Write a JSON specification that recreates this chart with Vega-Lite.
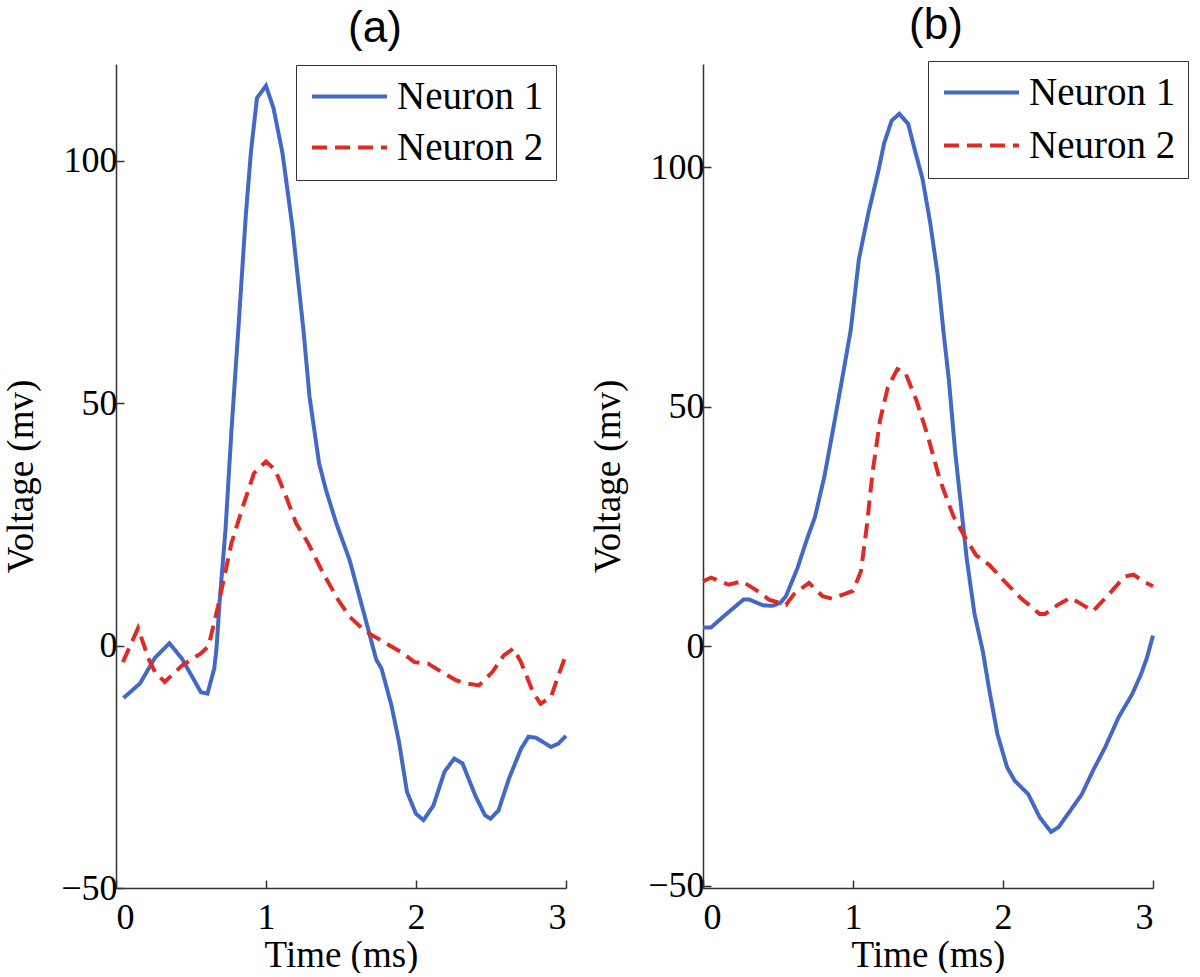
{
  "$schema": "https://vega.github.io/schema/vega-lite/v6.json",
  "background": "white",
  "padding": {"left": 2, "top": 3, "right": 0, "bottom": 0},
  "spacing": 15,
  "datasets": {
    "a": [
      {"series": "Neuron 1", "t": 0.05, "v": -10.8},
      {"series": "Neuron 1", "t": 0.16, "v": -7.8},
      {"series": "Neuron 1", "t": 0.26, "v": -2.5},
      {"series": "Neuron 1", "t": 0.356, "v": 0.5},
      {"series": "Neuron 1", "t": 0.44, "v": -2.7},
      {"series": "Neuron 1", "t": 0.566, "v": -9.6},
      {"series": "Neuron 1", "t": 0.61, "v": -9.9},
      {"series": "Neuron 1", "t": 0.655, "v": -4.7},
      {"series": "Neuron 1", "t": 0.67, "v": -0.6},
      {"series": "Neuron 1", "t": 0.69, "v": 8.8},
      {"series": "Neuron 1", "t": 0.73, "v": 23.9},
      {"series": "Neuron 1", "t": 0.77, "v": 44.5},
      {"series": "Neuron 1", "t": 0.815, "v": 65},
      {"series": "Neuron 1", "t": 0.866, "v": 89},
      {"series": "Neuron 1", "t": 0.9, "v": 102},
      {"series": "Neuron 1", "t": 0.94, "v": 113},
      {"series": "Neuron 1", "t": 1.0, "v": 115.5},
      {"series": "Neuron 1", "t": 1.05, "v": 110.9},
      {"series": "Neuron 1", "t": 1.11, "v": 101.6},
      {"series": "Neuron 1", "t": 1.176, "v": 86.4},
      {"series": "Neuron 1", "t": 1.25, "v": 65},
      {"series": "Neuron 1", "t": 1.29, "v": 51.4},
      {"series": "Neuron 1", "t": 1.354, "v": 37.6},
      {"series": "Neuron 1", "t": 1.4, "v": 32.1},
      {"series": "Neuron 1", "t": 1.468, "v": 25.3},
      {"series": "Neuron 1", "t": 1.557, "v": 17.7},
      {"series": "Neuron 1", "t": 1.67, "v": 4.7},
      {"series": "Neuron 1", "t": 1.735, "v": -2.9},
      {"series": "Neuron 1", "t": 1.77, "v": -4.7},
      {"series": "Neuron 1", "t": 1.836, "v": -12.3},
      {"series": "Neuron 1", "t": 1.887, "v": -19.9},
      {"series": "Neuron 1", "t": 1.94, "v": -30.2},
      {"series": "Neuron 1", "t": 2.0, "v": -34.7},
      {"series": "Neuron 1", "t": 2.05, "v": -36},
      {"series": "Neuron 1", "t": 2.116, "v": -33},
      {"series": "Neuron 1", "t": 2.19, "v": -26},
      {"series": "Neuron 1", "t": 2.255, "v": -23.3},
      {"series": "Neuron 1", "t": 2.31, "v": -24.3},
      {"series": "Neuron 1", "t": 2.395, "v": -30.9},
      {"series": "Neuron 1", "t": 2.46, "v": -35},
      {"series": "Neuron 1", "t": 2.497, "v": -35.7},
      {"series": "Neuron 1", "t": 2.55, "v": -34},
      {"series": "Neuron 1", "t": 2.62, "v": -27.4},
      {"series": "Neuron 1", "t": 2.7, "v": -21.3},
      {"series": "Neuron 1", "t": 2.75, "v": -18.8},
      {"series": "Neuron 1", "t": 2.8, "v": -19},
      {"series": "Neuron 1", "t": 2.9, "v": -20.9},
      {"series": "Neuron 1", "t": 2.95, "v": -20.2},
      {"series": "Neuron 1", "t": 3.0, "v": -18.6},
      {"series": "Neuron 2", "t": 0.046, "v": -3.4},
      {"series": "Neuron 2", "t": 0.147, "v": 3.6},
      {"series": "Neuron 2", "t": 0.22, "v": -2.9},
      {"series": "Neuron 2", "t": 0.26, "v": -5.4},
      {"series": "Neuron 2", "t": 0.325, "v": -7.5},
      {"series": "Neuron 2", "t": 0.44, "v": -4.1},
      {"series": "Neuron 2", "t": 0.566, "v": -1.6},
      {"series": "Neuron 2", "t": 0.617, "v": -0.1},
      {"series": "Neuron 2", "t": 0.68, "v": 8.1},
      {"series": "Neuron 2", "t": 0.77, "v": 21.2},
      {"series": "Neuron 2", "t": 0.846, "v": 28.7},
      {"series": "Neuron 2", "t": 0.92, "v": 35.6},
      {"series": "Neuron 2", "t": 1.0, "v": 38},
      {"series": "Neuron 2", "t": 1.06, "v": 36.3},
      {"series": "Neuron 2", "t": 1.125, "v": 31.5},
      {"series": "Neuron 2", "t": 1.2, "v": 25.3},
      {"series": "Neuron 2", "t": 1.28, "v": 21.2},
      {"series": "Neuron 2", "t": 1.38, "v": 15},
      {"series": "Neuron 2", "t": 1.48, "v": 9.5},
      {"series": "Neuron 2", "t": 1.557, "v": 6},
      {"series": "Neuron 2", "t": 1.66, "v": 3},
      {"series": "Neuron 2", "t": 1.76, "v": 1.2},
      {"series": "Neuron 2", "t": 1.91, "v": -1.5},
      {"series": "Neuron 2", "t": 1.99, "v": -3.4},
      {"series": "Neuron 2", "t": 2.08, "v": -3.7},
      {"series": "Neuron 2", "t": 2.17, "v": -5.4},
      {"series": "Neuron 2", "t": 2.27, "v": -7.2},
      {"series": "Neuron 2", "t": 2.34, "v": -7.8},
      {"series": "Neuron 2", "t": 2.42, "v": -8.2},
      {"series": "Neuron 2", "t": 2.51, "v": -5.4},
      {"series": "Neuron 2", "t": 2.585, "v": -2},
      {"series": "Neuron 2", "t": 2.65, "v": -0.6},
      {"series": "Neuron 2", "t": 2.7, "v": -3.4},
      {"series": "Neuron 2", "t": 2.78, "v": -9.6},
      {"series": "Neuron 2", "t": 2.83, "v": -12},
      {"series": "Neuron 2", "t": 2.9, "v": -10.6},
      {"series": "Neuron 2", "t": 2.95, "v": -6.1},
      {"series": "Neuron 2", "t": 2.99, "v": -2.7}
    ],
    "b": [
      {"series": "Neuron 1", "t": 0.0, "v": 3.9},
      {"series": "Neuron 1", "t": 0.054, "v": 3.9},
      {"series": "Neuron 1", "t": 0.156, "v": 6.7},
      {"series": "Neuron 1", "t": 0.27, "v": 9.7},
      {"series": "Neuron 1", "t": 0.31, "v": 9.7},
      {"series": "Neuron 1", "t": 0.4, "v": 8.5},
      {"series": "Neuron 1", "t": 0.464, "v": 8.4},
      {"series": "Neuron 1", "t": 0.515, "v": 9},
      {"series": "Neuron 1", "t": 0.553, "v": 10.4},
      {"series": "Neuron 1", "t": 0.63, "v": 16.3},
      {"series": "Neuron 1", "t": 0.694, "v": 22.4},
      {"series": "Neuron 1", "t": 0.746, "v": 26.9},
      {"series": "Neuron 1", "t": 0.81, "v": 35.5},
      {"series": "Neuron 1", "t": 0.874, "v": 46.4},
      {"series": "Neuron 1", "t": 0.925, "v": 55.3},
      {"series": "Neuron 1", "t": 0.985, "v": 66},
      {"series": "Neuron 1", "t": 1.04, "v": 80.9},
      {"series": "Neuron 1", "t": 1.104, "v": 90.6},
      {"series": "Neuron 1", "t": 1.168, "v": 99},
      {"series": "Neuron 1", "t": 1.207, "v": 104.9},
      {"series": "Neuron 1", "t": 1.258, "v": 109.7},
      {"series": "Neuron 1", "t": 1.309, "v": 111.1},
      {"series": "Neuron 1", "t": 1.368, "v": 109},
      {"series": "Neuron 1", "t": 1.41, "v": 103.8},
      {"series": "Neuron 1", "t": 1.463, "v": 97.6},
      {"series": "Neuron 1", "t": 1.514, "v": 88.5},
      {"series": "Neuron 1", "t": 1.565, "v": 77.4},
      {"series": "Neuron 1", "t": 1.602, "v": 66},
      {"series": "Neuron 1", "t": 1.64, "v": 55.3},
      {"series": "Neuron 1", "t": 1.68, "v": 40.9},
      {"series": "Neuron 1", "t": 1.72, "v": 29.3},
      {"series": "Neuron 1", "t": 1.758, "v": 18.3},
      {"series": "Neuron 1", "t": 1.81, "v": 6.7},
      {"series": "Neuron 1", "t": 1.865, "v": -1},
      {"series": "Neuron 1", "t": 1.91, "v": -9.4},
      {"series": "Neuron 1", "t": 1.963, "v": -18.4},
      {"series": "Neuron 1", "t": 2.027, "v": -25.3},
      {"series": "Neuron 1", "t": 2.078, "v": -28.1},
      {"series": "Neuron 1", "t": 2.168, "v": -30.9},
      {"series": "Neuron 1", "t": 2.244, "v": -35.7},
      {"series": "Neuron 1", "t": 2.32, "v": -38.8},
      {"series": "Neuron 1", "t": 2.37, "v": -37.8},
      {"series": "Neuron 1", "t": 2.45, "v": -34.3},
      {"series": "Neuron 1", "t": 2.526, "v": -30.9},
      {"series": "Neuron 1", "t": 2.6, "v": -26},
      {"series": "Neuron 1", "t": 2.68, "v": -21.2},
      {"series": "Neuron 1", "t": 2.77, "v": -14.9},
      {"series": "Neuron 1", "t": 2.86, "v": -10.1},
      {"series": "Neuron 1", "t": 2.92, "v": -5.9},
      {"series": "Neuron 1", "t": 2.96, "v": -2.4},
      {"series": "Neuron 1", "t": 3.0, "v": 2.2},
      {"series": "Neuron 2", "t": 0.0, "v": 13.5},
      {"series": "Neuron 2", "t": 0.054, "v": 14.3},
      {"series": "Neuron 2", "t": 0.17, "v": 12.8},
      {"series": "Neuron 2", "t": 0.26, "v": 13.5},
      {"series": "Neuron 2", "t": 0.35, "v": 11.8},
      {"series": "Neuron 2", "t": 0.44, "v": 9.7},
      {"series": "Neuron 2", "t": 0.553, "v": 8.6},
      {"series": "Neuron 2", "t": 0.605, "v": 10.8},
      {"series": "Neuron 2", "t": 0.707, "v": 13.2},
      {"series": "Neuron 2", "t": 0.797, "v": 10.4},
      {"series": "Neuron 2", "t": 0.86, "v": 9.9},
      {"series": "Neuron 2", "t": 1.0, "v": 11.5},
      {"series": "Neuron 2", "t": 1.053, "v": 15.6},
      {"series": "Neuron 2", "t": 1.09, "v": 24.5},
      {"series": "Neuron 2", "t": 1.13, "v": 36.1},
      {"series": "Neuron 2", "t": 1.18, "v": 47.1},
      {"series": "Neuron 2", "t": 1.232, "v": 54},
      {"series": "Neuron 2", "t": 1.296, "v": 57.8},
      {"series": "Neuron 2", "t": 1.348, "v": 57.1},
      {"series": "Neuron 2", "t": 1.424, "v": 51.2},
      {"series": "Neuron 2", "t": 1.5, "v": 43.7},
      {"series": "Neuron 2", "t": 1.578, "v": 34.8},
      {"series": "Neuron 2", "t": 1.668, "v": 27.2},
      {"series": "Neuron 2", "t": 1.745, "v": 22.8},
      {"series": "Neuron 2", "t": 1.82, "v": 19},
      {"series": "Neuron 2", "t": 1.91, "v": 16.9},
      {"series": "Neuron 2", "t": 2.01, "v": 13.5},
      {"series": "Neuron 2", "t": 2.116, "v": 10.1},
      {"series": "Neuron 2", "t": 2.244, "v": 6.7},
      {"series": "Neuron 2", "t": 2.28, "v": 6.7},
      {"series": "Neuron 2", "t": 2.37, "v": 8.7},
      {"series": "Neuron 2", "t": 2.45, "v": 10.1},
      {"series": "Neuron 2", "t": 2.526, "v": 8.7},
      {"series": "Neuron 2", "t": 2.6, "v": 7.3},
      {"series": "Neuron 2", "t": 2.706, "v": 10.8},
      {"series": "Neuron 2", "t": 2.81, "v": 14.5},
      {"series": "Neuron 2", "t": 2.87, "v": 14.9},
      {"series": "Neuron 2", "t": 2.936, "v": 13.5},
      {"series": "Neuron 2", "t": 3.0, "v": 12.5}
    ]
  },
  "config": {
    "view": {"stroke": null},
    "axis": {
      "grid": false,
      "labelFont": "Liberation Serif",
      "labelFontSize": 36,
      "labelColor": "black",
      "titleFont": "Liberation Serif",
      "titleFontSize": 37,
      "titleFontWeight": "normal",
      "titleColor": "black",
      "domainColor": "#333333",
      "domainWidth": 1.5,
      "tickColor": "#333333",
      "tickWidth": 1.5,
      "tickSize": -8
    },
    "legend": {
      "title": null,
      "orient": "none",
      "symbolType": "M-3,0H3",
      "symbolSize": 625,
      "symbolStrokeWidth": 4,
      "symbolOffset": 22,
      "labelOffset": 28,
      "labelFont": "Liberation Serif",
      "labelFontSize": 39,
      "labelColor": "black",
      "labelLimit": 400,
      "strokeColor": "#333333",
      "fillColor": "white",
      "padding": 12
    },
    "title": {"font": "Liberation Sans", "fontSize": 44, "fontWeight": "normal", "color": "black"}
  },
  "resolve": {
    "scale": {"color": "independent", "strokeDash": "independent"},
    "legend": {"color": "independent", "strokeDash": "independent"}
  },
  "hconcat": [
    {
      "width": 450,
      "height": 824,
      "title": {"text": "(a)", "dx": 34, "offset": 13},
      "data": {"name": "a"},
      "mark": {"type": "line", "strokeWidth": 4},
      "encoding": {
        "x": {"field": "t", "type": "quantitative", "scale": {"domain": [0, 3], "nice": false, "zero": false},
              "axis": {"values": [0, 1, 2, 3], "title": "Time (ms)", "labelPadding": 20, "titlePadding": 2}},
        "y": {"field": "v", "type": "quantitative", "scale": {"domain": [-50, 120], "nice": false, "zero": false},
              "axis": {"values": [-50, 0, 50, 100], "title": "Voltage (mv)", "labelPadding": 7, "titlePadding": 20}},
        "color": {"field": "series", "type": "nominal",
                  "scale": {"domain": ["Neuron 1", "Neuron 2"], "range": ["#4468c6", "#de2b24"]},
                  "legend": {"legendX": 180, "legendY": 1, "rowPadding": 11}},
        "strokeDash": {"field": "series", "type": "nominal",
                  "scale": {"domain": ["Neuron 1", "Neuron 2"], "range": [[1, 0], [15, 8]]},
                  "legend": {"legendX": 180, "legendY": 1, "rowPadding": 11}}
      }
    },
    {
      "width": 450,
      "height": 824,
      "title": {"text": "(b)", "dx": 8, "offset": 13},
      "data": {"name": "b"},
      "mark": {"type": "line", "strokeWidth": 4},
      "encoding": {
        "x": {"field": "t", "type": "quantitative", "scale": {"domain": [0, 3], "nice": false, "zero": false},
              "axis": {"values": [0, 1, 2, 3], "title": "Time (ms)", "labelPadding": 20, "titlePadding": 2}},
        "y": {"field": "v", "type": "quantitative", "scale": {"domain": [-50.5, 121.5], "nice": false, "zero": false},
              "axis": {"values": [-50, 0, 50, 100], "title": "Voltage (mv)", "labelPadding": 7, "titlePadding": 20}},
        "color": {"field": "series", "type": "nominal",
                  "scale": {"domain": ["Neuron 1", "Neuron 2"], "range": ["#4468c6", "#de2b24"]},
                  "legend": {"legendX": 225, "legendY": -3, "rowPadding": 13}},
        "strokeDash": {"field": "series", "type": "nominal",
                  "scale": {"domain": ["Neuron 1", "Neuron 2"], "range": [[1, 0], [15, 8]]},
                  "legend": {"legendX": 225, "legendY": -3, "rowPadding": 13}}
      }
    }
  ]
}
